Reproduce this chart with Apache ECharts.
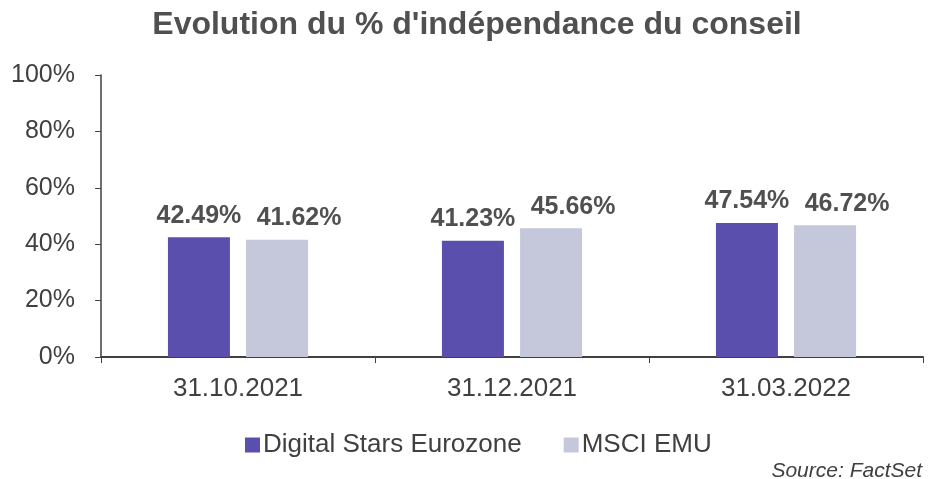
<!DOCTYPE html>
<html>
<head>
<meta charset="utf-8">
<script src="https://cdn.jsdelivr.net/npm/echarts@6/dist/echarts.min.js"></script>
<style>
  html, body { margin: 0; padding: 0; background: #fff; }
  #chart { width: 934px; height: 479px; }
</style>
</head>
<body>
<div id="chart"></div>
<script>
// data
const categories = ['31.10.2021', '31.12.2021', '31.03.2022']
const digitalStars = [42.49, 41.23, 47.54]
const msciEmu = [41.62, 45.66, 46.72]
const seriesNames = ['Digital Stars Eurozone', 'MSCI EMU']

const font = 'Liberation Sans, Arial, sans-serif'
const textColor = '#404040'

// value labels; the second series sits a bit right of its bars like in the original
function labelStyle(shift) {
    return {
        show: true,
        position: 'top',
        distance: 9,
        offset: [shift, 0],
        color: '#505050',
        fontFamily: font,
        fontWeight: 'bold',
        fontSize: 25,
        formatter: p => p.value.toFixed(2) + '%'
    }
}

const chart = echarts.init(document.getElementById('chart'))

chart.setOption({
    animation: false,
    title: [{
        text: "Evolution du % d'indépendance du conseil",
        left: 472,
        top: 4,
        textAlign: 'center',
        textStyle: { fontFamily: font, fontWeight: 'bold', fontSize: 32, color: '#505050' }
    }, {
        text: 'Source: FactSet',
        right: 7,
        top: 456,
        textStyle: { fontFamily: font, fontStyle: 'italic', fontWeight: 'normal', fontSize: 21, color: textColor }
    }],
    legend: {
        data: seriesNames,
        top: 427,
        left: 240,
        itemWidth: 15,
        itemHeight: 15,
        itemGap: 42,
        icon: 'rect',
        textStyle: { fontFamily: font, fontSize: 26, color: textColor, padding: [0, 0, 0, -2] }
    },
    grid: { left: 101, right: 11, top: 75, bottom: 122, containLabel: false },
    xAxis: {
        type: 'category',
        data: categories,
        axisLine: { lineStyle: { color: '#404040', width: 2 } },
        axisTick: { show: true, length: 6, lineStyle: { color: '#404040' } },
        axisLabel: { fontFamily: font, fontSize: 26, color: textColor, margin: 19 }
    },
    yAxis: {
        type: 'value',
        min: 0,
        max: 100,
        interval: 20,
        axisLine: { show: true, lineStyle: { color: '#404040', width: 1.5 } },
        axisTick: { show: true, length: 6, lineStyle: { color: '#404040' } },
        splitLine: { show: false },
        axisLabel: { fontFamily: font, fontSize: 25, color: textColor, margin: 26, formatter: '{value}%' }
    },
    series: [{
        name: seriesNames[0],
        type: 'bar',
        data: digitalStars,
        barWidth: 62,
        barGap: '26%',
        itemStyle: { color: '#5b4fae' },
        label: labelStyle(0)
    }, {
        name: seriesNames[1],
        type: 'bar',
        data: msciEmu,
        barWidth: 62,
        itemStyle: { color: '#c5c8da' },
        label: labelStyle(22)
    }]
})
</script>
</body>
</html>
